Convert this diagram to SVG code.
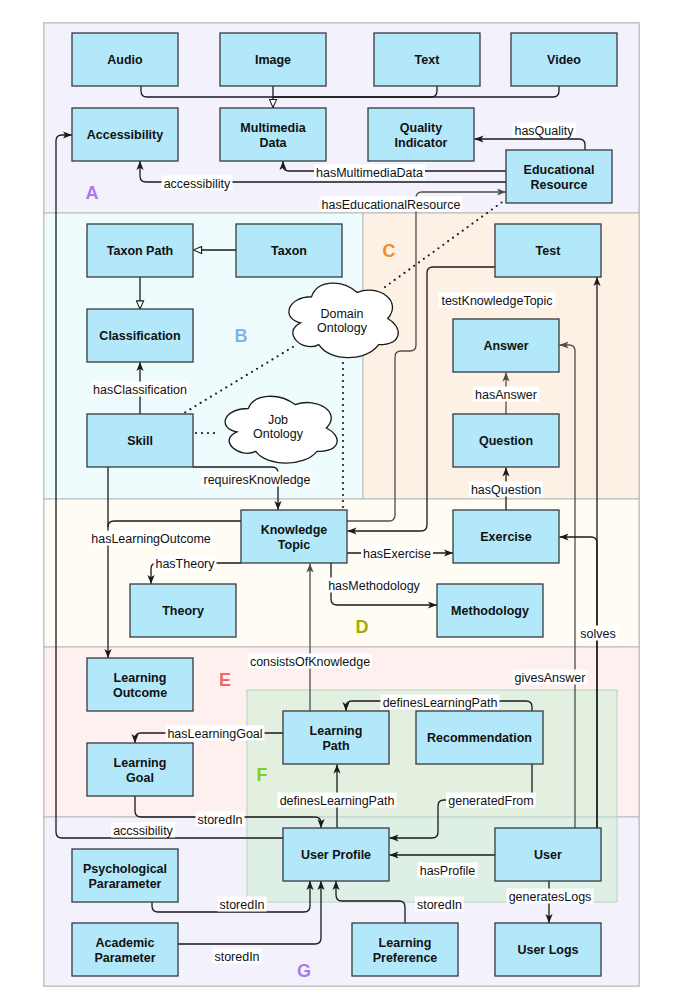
<svg xmlns="http://www.w3.org/2000/svg" width="676" height="988" viewBox="0 0 676 988">
<style>
.reg{stroke:#b9b9b9;stroke-width:1}
.node rect{fill:#b2e8fa;stroke:#36393d;stroke-width:1.3}
.nt{font-family:"Liberation Sans",Arial,sans-serif;font-size:12.5px;font-weight:bold;fill:#111;text-anchor:middle}
.ct{font-family:"Liberation Sans",Arial,sans-serif;font-size:12.5px;fill:#111;text-anchor:middle}
.el{font-family:"Liberation Sans",Arial,sans-serif;font-size:12.5px;fill:#111;text-anchor:middle}
.lb{fill:#fff}
.e{fill:none;stroke:#1a1a1a;stroke-width:1.3;marker-end:url(#arr)}
.eg{fill:none;stroke:#4d4d4d;stroke-width:1.3;marker-end:url(#arrg)}
.en{fill:none;stroke:#1a1a1a;stroke-width:1.3}
.et{fill:none;stroke:#1a1a1a;stroke-width:1.3;marker-end:url(#tri)}
.dot{fill:none;stroke:#1a1a1a;stroke-width:2.2;stroke-linecap:round;stroke-dasharray:0 6}
.rl{font-family:"Liberation Sans",Arial,sans-serif;font-size:18px;font-weight:bold;text-anchor:middle}
.cloud{fill:#fff;stroke:#1a1a1a;stroke-width:1.3}
</style>
<defs>
<marker id="arr" viewBox="0 0 10 10" refX="10" refY="5" markerWidth="9" markerHeight="9" markerUnits="userSpaceOnUse" orient="auto"><path d="M0,1 L10,5 L0,9 L2.5,5 Z" fill="#1a1a1a"/></marker>
<marker id="arrg" viewBox="0 0 10 10" refX="10" refY="5" markerWidth="9" markerHeight="9" markerUnits="userSpaceOnUse" orient="auto"><path d="M0,1 L10,5 L0,9 L2.5,5 Z" fill="#4d4d4d"/></marker>
<marker id="tri" viewBox="0 0 10 10" refX="10" refY="5" markerWidth="9" markerHeight="9" markerUnits="userSpaceOnUse" orient="auto"><path d="M1,1 L10,5 L1,9 Z" fill="#fff" stroke="#1a1a1a" stroke-width="1.2"/></marker>
</defs>

<g id="regions">
<rect x="44" y="23" width="595" height="963" fill="#fff" stroke="#d2d2d2" stroke-width="2"/>
<rect class="reg" x="44" y="23" width="595" height="190" fill="#f3f2fc"/>
<rect class="reg" x="44" y="213" width="319" height="286" fill="#effcfd"/>
<rect class="reg" x="363" y="213" width="276" height="286" fill="#fdf0e4"/>
<rect class="reg" x="44" y="499" width="595" height="148" fill="#fefcf3"/>
<rect class="reg" x="44" y="647" width="595" height="170" fill="#fdf0ef"/>
<rect class="reg" x="44" y="817" width="595" height="169" fill="#f2f1fc"/>
<rect x="247" y="690" width="370" height="212" fill="#c9eecf" fill-opacity="0.5" stroke="#b8d2bc" stroke-width="1"/>
<text class="rl" x="92" y="198.5" fill="#a77af2">A</text>
<text class="rl" x="241" y="341.5" fill="#7db3ea">B</text>
<text class="rl" x="389" y="256.5" fill="#f08c28">C</text>
<text class="rl" x="362" y="632.5" fill="#a9a800">D</text>
<text class="rl" x="225" y="685.5" fill="#f06868">E</text>
<text class="rl" x="262" y="780.5" fill="#7fd022">F</text>
<text class="rl" x="304" y="976.5" fill="#a77af2">G</text>
</g>

<g id="connectors">
<path class="en" d="M141,86 V91 Q141,97 147,97 H273"/>
<path class="en" d="M437,86 V91 Q437,97 431,97 H273"/>
<path class="en" d="M559,86 V91 Q559,97 553,97 H273"/>
<path class="et" d="M273,86 V107.5"/>
<path class="e" d="M585,150 V145 Q585,139 579,139 H474.5"/>
<path class="e" d="M506,171 H289 Q283,171 283,165 V161"/>
<path class="e" d="M506,182 H146 Q140,182 140,176 V161"/>
<path class="eg" d="M347,521 H389 Q395,521 395,515 V357 Q395,351 401,351 H410 Q416,351 416,345 V198 Q416,192 422,192 H506"/>
<path class="e" d="M495,267 H433 Q427,267 427,273 V525 Q427,531 421,531 H347.5"/>
<path class="et" d="M236,250 H193.5"/>
<path class="et" d="M140,277 V309"/>
<path class="e" d="M140,414 V362"/>
<path class="e" d="M193,467 H272 Q278,467 278,473 V510"/>
<path class="e" d="M108,467 V658"/>
<path class="en" d="M241,521 H114 Q108,521 108,527"/>
<path class="e" d="M241,563 H157 Q151,563 151,569 V584"/>
<path class="e" d="M331,563 V599 Q331,605 337,605 H437"/>
<path class="e" d="M347,553 H453"/>
<path class="e" d="M506,510 V467.5"/>
<path class="eg" d="M506,414 V372.5"/>
<path class="eg" d="M575,828 V351 Q575,345 569,345 H559.5"/>
<path class="e" d="M597,828 V543 Q597,537 591,537 H559.5"/>
<path class="e" d="M597,828 V277"/>
<path class="eg" d="M310,711 V563.5"/>
<path class="e" d="M283,733 H141 Q135,733 135,739 V743"/>
<path class="e" d="M532,711 V707 Q532,701 526,701 H352 Q346,701 346,707 V711"/>
<path class="e" d="M337,828 V764.5"/>
<path class="e" d="M532,764 V794 Q532,800 526,800 H444 Q438,800 438,806 V832 Q438,838 432,838 H389.5"/>
<path class="e" d="M495,855 H389.5"/>
<path class="e" d="M549,881 V923"/>
<path class="e" d="M135,796 V811 Q135,817 141,817 H315 Q321,817 321,823 V828"/>
<path class="e" d="M283,838 H62 Q56,838 56,832 V141 Q56,135 62,135 H72"/>
<path class="e" d="M152,902 V906 Q152,912 158,912 H304 Q310,912 310,906 V881"/>
<path class="e" d="M177,944 H315 Q321,944 321,938 V881"/>
<path class="e" d="M405,923 V907 Q405,901 399,901 H342 Q336,901 336,895 V881"/>
<path class="dot" d="M385,287 L505,200"/>
<path class="dot" d="M293,347 L184,413"/>
<path class="dot" d="M343,363 V508"/>
<path class="dot" d="M196,433 H216"/>

<rect class="lb" x="512.5" y="122.5" width="63" height="15"/><text class="el" x="544" y="134.5">hasQuality</text>
<rect class="lb" x="314" y="164.5" width="111" height="15"/><text class="el" x="369.5" y="176.5">hasMultimediaData</text>
<rect class="lb" x="161.5" y="175.5" width="71" height="15"/><text class="el" x="197" y="187.5">accessibility</text>
<rect class="lb" x="319.5" y="196.5" width="143" height="15"/><text class="el" x="391" y="208.5">hasEducationalResource</text>
<rect class="lb" x="438.5" y="292.5" width="117" height="15"/><text class="el" x="497" y="304.5">testKnowledgeTopic</text>
<rect class="lb" x="91" y="381.5" width="98" height="15"/><text class="el" x="140" y="393.5">hasClassification</text>
<rect class="lb" x="201.5" y="471.5" width="111" height="15"/><text class="el" x="257" y="483.5">requiresKnowledge</text>
<rect class="lb" x="473" y="386.5" width="66" height="15"/><text class="el" x="506" y="398.5">hasAnswer</text>
<rect class="lb" x="469" y="481.5" width="74" height="15"/><text class="el" x="506" y="493.5">hasQuestion</text>
<rect class="lb" x="89" y="530.5" width="124" height="15"/><text class="el" x="151" y="542.5">hasLearningOutcome</text>
<rect class="lb" x="153.5" y="555.5" width="63" height="15"/><text class="el" x="185" y="567.5">hasTheory</text>
<rect class="lb" x="361" y="545.5" width="72" height="15"/><text class="el" x="397" y="557.5">hasExercise</text>
<rect class="lb" x="326" y="577.5" width="96" height="15"/><text class="el" x="374" y="589.5">hasMethodology</text>
<rect class="lb" x="578" y="625.5" width="40" height="15"/><text class="el" x="598" y="637.5">solves</text>
<rect class="lb" x="248" y="653.5" width="124" height="15"/><text class="el" x="310" y="665.5">consistsOfKnowledge</text>
<rect class="lb" x="512.5" y="669.5" width="75" height="15"/><text class="el" x="550" y="681.5">givesAnswer</text>
<rect class="lb" x="380.5" y="694.5" width="119" height="15"/><text class="el" x="440" y="706.5">definesLearningPath</text>
<rect class="lb" x="165.5" y="725.5" width="99" height="15"/><text class="el" x="215" y="737.5">hasLearningGoal</text>
<rect class="lb" x="277.5" y="792.5" width="119" height="15"/><text class="el" x="337" y="804.5">definesLearningPath</text>
<rect class="lb" x="446" y="792.5" width="90" height="15"/><text class="el" x="491" y="804.5">generatedFrom</text>
<rect class="lb" x="195.5" y="811.5" width="49" height="15"/><text class="el" x="220" y="823.5">storedIn</text>
<rect class="lb" x="111" y="822.5" width="64" height="15"/><text class="el" x="143" y="834.5">accssibility</text>
<rect class="lb" x="417.5" y="862.5" width="60" height="15"/><text class="el" x="447.5" y="874.5">hasProfile</text>
<rect class="lb" x="506.5" y="888.5" width="87" height="15"/><text class="el" x="550" y="900.5">generatesLogs</text>
<rect class="lb" x="217.5" y="896.5" width="49" height="15"/><text class="el" x="242" y="908.5">storedIn</text>
<rect class="lb" x="415" y="896.5" width="49" height="15"/><text class="el" x="439.5" y="908.5">storedIn</text>
<rect class="lb" x="212.5" y="948.5" width="49" height="15"/><text class="el" x="237" y="960.5">storedIn</text>
</g>

<g id="n-audio" class="node"><rect x="72" y="33" width="106" height="53"/><text class="nt" x="125" y="64">Audio</text></g>
<g id="n-image" class="node"><rect x="220" y="33" width="106" height="53"/><text class="nt" x="273" y="64">Image</text></g>
<g id="n-text" class="node"><rect x="374" y="33" width="106" height="53"/><text class="nt" x="427" y="64">Text</text></g>
<g id="n-video" class="node"><rect x="511" y="33" width="106" height="53"/><text class="nt" x="564" y="64">Video</text></g>
<g id="n-accessibility" class="node"><rect x="72" y="108" width="106" height="53"/><text class="nt" x="125" y="139">Accessibility</text></g>
<g id="n-multimedia" class="node"><rect x="220" y="108" width="106" height="53"/><text class="nt" x="273" y="132">Multimedia</text><text class="nt" x="273" y="146.5">Data</text></g>
<g id="n-quality" class="node"><rect x="368" y="108" width="106" height="53"/><text class="nt" x="421" y="132">Quality</text><text class="nt" x="421" y="146.5">Indicator</text></g>
<g id="n-eduresource" class="node"><rect x="506" y="150" width="106" height="53"/><text class="nt" x="559" y="174">Educational</text><text class="nt" x="559" y="188.5">Resource</text></g>
<g id="n-taxonpath" class="node"><rect x="87" y="224" width="106" height="53"/><text class="nt" x="140" y="255">Taxon Path</text></g>
<g id="n-taxon" class="node"><rect x="236" y="224" width="106" height="53"/><text class="nt" x="289" y="255">Taxon</text></g>
<g id="n-classification" class="node"><rect x="87" y="309" width="106" height="53"/><text class="nt" x="140" y="340">Classification</text></g>
<g id="n-skill" class="node"><rect x="87" y="414" width="106" height="53"/><text class="nt" x="140" y="445">Skill</text></g>
<g id="n-test" class="node"><rect x="495" y="224" width="106" height="53"/><text class="nt" x="548" y="255">Test</text></g>
<g id="n-answer" class="node"><rect x="453" y="319" width="106" height="53"/><text class="nt" x="506" y="350">Answer</text></g>
<g id="n-question" class="node"><rect x="453" y="414" width="106" height="53"/><text class="nt" x="506" y="445">Question</text></g>
<g id="n-knowledge" class="node"><rect x="241" y="510" width="106" height="53"/><text class="nt" x="294" y="534">Knowledge</text><text class="nt" x="294" y="548.5">Topic</text></g>
<g id="n-exercise" class="node"><rect x="453" y="510" width="106" height="53"/><text class="nt" x="506" y="541">Exercise</text></g>
<g id="n-theory" class="node"><rect x="130" y="584" width="106" height="53"/><text class="nt" x="183" y="615">Theory</text></g>
<g id="n-methodology" class="node"><rect x="437" y="584" width="106" height="53"/><text class="nt" x="490" y="615">Methodology</text></g>
<g id="n-outcome" class="node"><rect x="87" y="658" width="106" height="53"/><text class="nt" x="140" y="682">Learning</text><text class="nt" x="140" y="696.5">Outcome</text></g>
<g id="n-path" class="node"><rect x="283" y="711" width="106" height="53"/><text class="nt" x="336" y="735">Learning</text><text class="nt" x="336" y="749.5">Path</text></g>
<g id="n-recommendation" class="node"><rect x="416" y="711" width="127" height="53"/><text class="nt" x="479.5" y="742">Recommendation</text></g>
<g id="n-goal" class="node"><rect x="87" y="743" width="106" height="53"/><text class="nt" x="140" y="767">Learning</text><text class="nt" x="140" y="781.5">Goal</text></g>
<g id="n-profile" class="node"><rect x="283" y="828" width="106" height="53"/><text class="nt" x="336" y="859">User Profile</text></g>
<g id="n-user" class="node"><rect x="495" y="828" width="106" height="53"/><text class="nt" x="548" y="859">User</text></g>
<g id="n-psych" class="node"><rect x="72" y="849" width="106" height="53"/><text class="nt" x="125" y="873">Psychological</text><text class="nt" x="125" y="887.5">Pararameter</text></g>
<g id="n-academic" class="node"><rect x="72" y="923" width="106" height="53"/><text class="nt" x="125" y="947">Academic</text><text class="nt" x="125" y="961.5">Parameter</text></g>
<g id="n-preference" class="node"><rect x="352" y="923" width="106" height="53"/><text class="nt" x="405" y="947">Learning</text><text class="nt" x="405" y="961.5">Preference</text></g>
<g id="n-logs" class="node"><rect x="495" y="923" width="106" height="53"/><text class="nt" x="548" y="954">User Logs</text></g>

<g id="n-domain">
<path class="cloud" transform="translate(281,275) scale(1.22,0.87)" vector-effect="non-scaling-stroke" d="M25,25 C5,25 0,50 16,55 C0,66 18,90 31,80 C40,100 70,100 80,80 C100,80 100,60 87.5,50 C100,30 80,10 62.5,20 C50,5 30,5 25,25 Z"/>
<text class="ct" x="342" y="317.5">Domain</text><text class="ct" x="342" y="332">Ontology</text>
</g>
<g id="n-job">
<path class="cloud" transform="translate(217,389) scale(1.25,0.78)" vector-effect="non-scaling-stroke" d="M25,25 C5,25 0,50 16,55 C0,66 18,90 31,80 C40,100 70,100 80,80 C100,80 100,60 87.5,50 C100,30 80,10 62.5,20 C50,5 30,5 25,25 Z"/>
<text class="ct" x="278" y="423.5">Job</text><text class="ct" x="278" y="438">Ontology</text>
</g>
</svg>
